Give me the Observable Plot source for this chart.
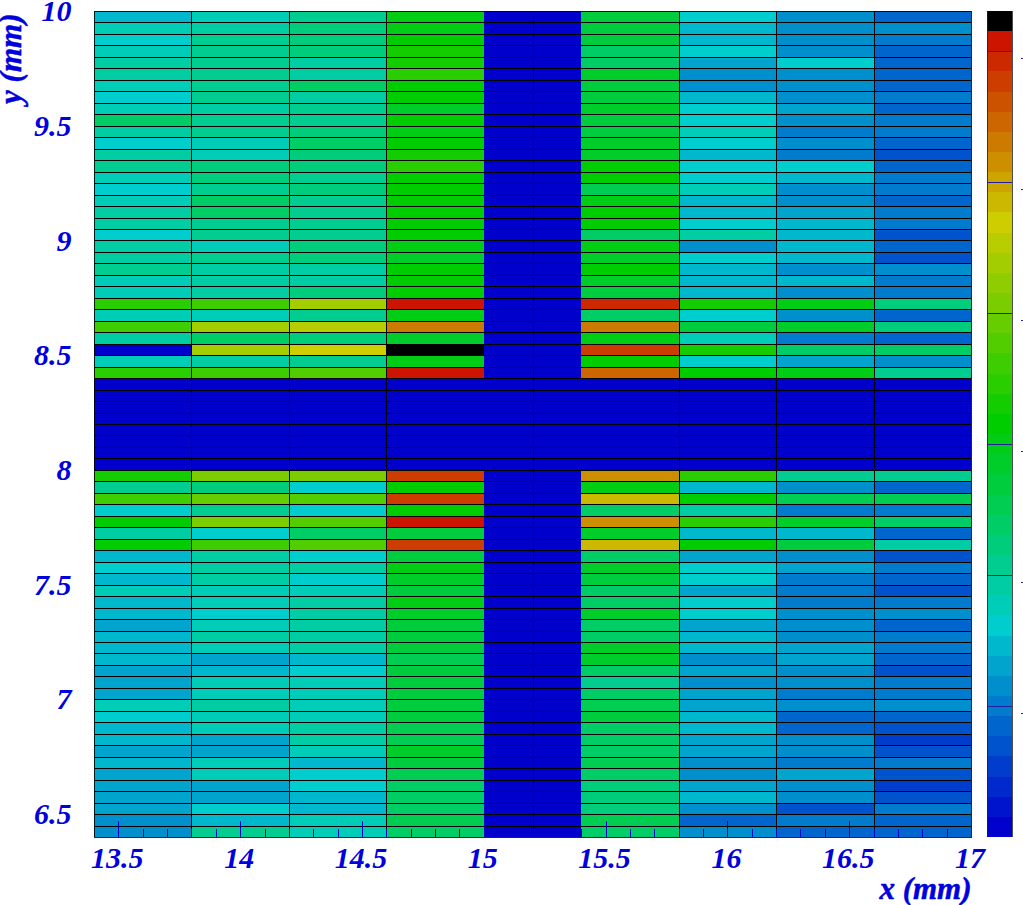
<!DOCTYPE html>
<html>
<head>
<meta charset="utf-8">
<script src="https://cdn.jsdelivr.net/npm/d3@7"></script>
<script src="https://cdn.jsdelivr.net/npm/@observablehq/plot@0.6"></script>
<style>
html,body{margin:0;padding:0;background:#fff;width:1023px;height:905px;overflow:hidden}
#chart{position:relative;width:1023px;height:905px}
#chart svg{position:absolute;top:0}
</style>
</head>
<body>
<div id="chart"></div>
<script>
const palette = ["#0000cd","#0014cd","#0029cd","#003dcd","#0052cd","#0066cd","#007bcd","#008fcd","#00a4cd","#00b8cd","#00cdcd",
"#00cdb8","#00cda4","#00cd8f","#00cd7b","#00cd66","#00cd52","#00cd3d","#00cd29","#00cd14","#00cd00",
"#14cd00","#29cd00","#3dcd00","#52cd00","#66cd00","#7bcd00","#8fcd00","#a4cd00","#b8cd00","#cdcd00",
"#cdb800","#cda400","#cd8f00","#cd7b00","#cd6600","#cd5200","#cd3d00","#cd2900","#cd1400","#000000"];
const xEdges = [13.4,13.8,14.2,14.6,15,15.2,15.4,15.8,16.2,16.6,17];
const xLines = [13.8,14.2,14.6,15.2,15.8,16.2,16.6];
const xTicks = [13.5,14,14.5,15,15.5,16,16.5,17];
const xMinor = [13.6,13.7,13.8,13.9,14.1,14.2,14.3,14.4,14.6,14.7,14.8,14.9,15.1,15.2,15.3,15.4,15.6,15.7,15.8,15.9,16.1,16.2,16.3,16.4,16.6,16.7,16.8,16.9];
const yTicks = [6.5,7,7.5,8,8.5,9,9.5,10];
const barTicks = [6.5,13,19.5,26,32.5,39];

// colour level of every cell, one list per x bin, from y = 10 down to y = 6.4
const col0 = [9,11,10,11,12,12,11,10,11,15,12,10,12,13,11,10,11,12,12,10,12,12,13,11,11,
  22,11,23,12,0,11,22, 0,0,0,0,0,0,0,0, 21,13,23,10,20,12,20,
  9,10,9,11,9,9,8,9,9,9,8,8,8,11,10,9,9,8,9,8,8,8,8,7,7];
const col1 = [11,12,13,13,13,13,13,13,12,13,13,11,11,14,14,13,15,15,13,13,11,13,12,12,12,
  23,11,28,15,28,12,23, 0,0,0,0,0,0,0,0, 26,14,25,13,26,10,23,
  12,12,12,11,11,10,11,12,11,8,9,11,11,12,11,11,8,8,11,11,8,8,10,9,13];
const col2 = [13,14,14,14,12,12,15,12,13,13,14,15,14,14,13,14,13,13,13,13,14,14,12,12,14,
  28,13,29,14,30,13,24, 0,0,0,0,0,0,0,0, 26,10,24,10,24,15,24,
  10,12,10,11,12,12,12,12,12,9,10,11,11,11,11,12,12,11,9,10,10,9,9,11,11];
const col3 = [19,19,20,21,21,22,20,20,18,20,19,20,21,22,20,20,20,20,20,20,19,18,20,20,20,
  39,19,34,18,40,19,39, 0,0,0,0,0,0,0,0, 37,20,37,20,39,17,37,
  17,19,18,17,19,18,17,17,17,16,17,17,17,17,17,16,16,18,17,16,15,15,15,16,15];
const col4 = [0,0,0,0,0,0,0,0,0,0,0,0,0,0,0,0,0,0,0,0,0,0,0,0,0,0,0,0,0,0,0,0,0,0,0,0,
  0,0,0,0,0,0,0,0,0,0,0,0,0,0,0,0,0,0,0,0,0,0,0,0,0,0,0,0,0,0,0,0,0,0,0,0];
const col5 = [0,0,0,0,0,0,0,0,0,0,0,0,0,0,0,0,0,0,0,0,0,0,0,0,0,0,0,0,0,0,0,0,0,0,0,0,
  0,0,0,0,0,0,0,0,0,0,0,0,0,0,0,0,0,0,0,0,0,0,0,0,0,0,0,0,0,0,0,0,0,0,0,0];
const col6 = [17,17,17,15,15,18,17,17,18,17,17,18,18,20,20,16,19,20,20,15,19,18,20,18,17,
  38,15,34,19,37,20,35, 0,0,0,0,0,0,0,0, 33,19,31,15,33,18,31,
  15,18,17,15,15,18,15,15,18,18,15,13,15,16,17,15,15,15,16,15,14,14,14,16,15];
const col7 = [10,9,9,10,8,7,7,9,10,10,11,10,9,10,10,11,9,9,10,12,7,10,9,9,9,
  21,10,17,11,21,10,20, 0,0,0,0,0,0,0,0, 22,9,20,12,22,9,20,
  8,10,10,8,10,10,8,9,9,7,8,7,8,8,9,9,8,8,7,7,8,9,7,5,7];
const col8 = [7,7,7,7,10,7,7,7,8,7,6,7,6,10,9,7,7,8,9,9,9,9,7,9,7,
  19,7,18,6,15,8,19, 0,0,0,0,0,0,0,0, 13,7,16,6,18,9,17,
  7,8,6,6,6,7,7,7,8,8,7,7,6,7,5,5,7,7,6,8,7,7,4,6,5];
const col9 = [5,7,6,5,5,5,5,6,5,6,6,5,4,5,6,6,5,6,6,4,5,4,7,6,6,
  14,5,14,5,15,7,13, 0,0,0,0,0,0,0,0, 13,5,16,6,15,5,12,
  4,6,5,4,6,7,5,6,6,5,4,6,6,7,5,4,3,4,6,4,3,4,6,5,5];

const columns = [col0,col1,col2,col3,col4,col5,col6,col7,col8,col9];
const yTop = 10, rowH = 0.05, yBottom = 6.4;
const cells = columns.flatMap((levels, c) => levels.map((level, r) => ({
  x1: xEdges[c], x2: xEdges[c + 1],
  y1: yTop - rowH * (r + 1), y2: yTop - rowH * r, level
})));
const yLines = col0.slice(1).map((_, r) => yTop - rowH * (r + 1));
const levels = palette.map((_, i) => i);
const color = {type: "ordinal", domain: levels, range: palette};

const blue = "#0000dc";
const font = {fontFamily: "'Liberation Serif', serif", fontWeight: "bold", fontStyle: "italic", fontSize: 30, stroke: blue, strokeWidth: 0.5};

const main = Plot.plot({
  width: 1023, height: 905,
  marginLeft: 94, marginRight: 52, marginTop: 11, marginBottom: 68,
  style: {background: "transparent", overflow: "visible", maxWidth: "none"},
  x: {domain: [13.4, 17]},
  y: {domain: [yBottom, 10]},
  color,
  marks: [
    Plot.rect(cells, {x1: "x1", x2: "x2", y1: "y1", y2: "y2", fill: "level", shapeRendering: "crispEdges"}),
    Plot.ruleY(yLines, {stroke: "#000", strokeWidth: 1, shapeRendering: "crispEdges"}),
    Plot.ruleX(xLines, {stroke: "#000", strokeWidth: 1, shapeRendering: "crispEdges"}),
    Plot.ruleX(xTicks.slice(0, -1), {y1: yBottom, y2: yBottom + 0.07, stroke: "#0000c0", shapeRendering: "crispEdges"}),
    Plot.ruleX(xMinor, {y1: yBottom, y2: yBottom + 0.035, stroke: "#0000c0", shapeRendering: "crispEdges"}),
    Plot.frame({stroke: "#000", strokeOpacity: 0.85}),
    Plot.axisX(xTicks, {anchor: "bottom", tickSize: 0, tickPadding: 9, dx: -1.5, tickFormat: d => String(d), label: null, fill: blue, ...font}),
    Plot.axisY(yTicks, {anchor: "left", tickSize: 0, tickPadding: 23, tickFormat: d => String(d), label: null, fill: blue, ...font}),
    Plot.text(["x (mm)"], {frameAnchor: "bottom-right", dx: 0, dy: 61, textAnchor: "end", lineAnchor: "bottom", fill: blue, ...font, fontSize: 31}),
    Plot.text(["y (mm)"], {frameAnchor: "top-left", dx: -74, dy: 2, rotate: -90, textAnchor: "end", lineAnchor: "bottom", fill: blue, ...font, fontSize: 31})
  ]
});
document.getElementById("chart").append(main);

const bar = Plot.plot({
  width: 36, height: 905,
  marginLeft: 0, marginRight: 11, marginTop: 11, marginBottom: 68,
  style: {background: "transparent", overflow: "hidden", maxWidth: "none", left: "987px"},
  x: {domain: [0, 1], axis: null},
  y: {domain: [0, 41], axis: null},
  color,
  marks: [
    Plot.rect(levels, {x1: 0, x2: 1, y1: d => d, y2: d => d + 1, fill: d => d, shapeRendering: "crispEdges"}),
    Plot.ruleY(barTicks, {x1: 0, x2: 1, stroke: "#2020a0", shapeRendering: "crispEdges"}),
    Plot.ruleY(barTicks, {x1: 1.36, x2: 1.44, dy: 7, stroke: "#2020c0", shapeRendering: "crispEdges"}),
    Plot.ruleX([0, 1], {stroke: "#222", strokeOpacity: 0.8, shapeRendering: "crispEdges"})
  ]
});
document.getElementById("chart").append(bar);
</script>
</body>
</html>
